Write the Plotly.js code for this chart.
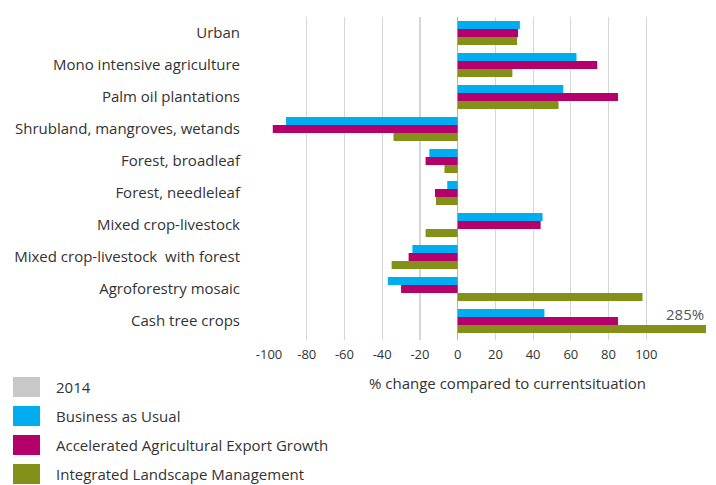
<!DOCTYPE html>
<html>
<head>
<meta charset="utf-8">
<script src="https://cdn.plot.ly/plotly-3.0.1.min.js"></script>
<style>html,body{margin:0;padding:0;background:#fff;}#chart{width:716px;height:485px;}</style>
</head>
<body>
<div id="chart"></div>
<script>
const categories = [
  "Urban",
  "Mono intensive agriculture",
  "Palm oil plantations",
  "Shrubland, mangroves, wetands",
  "Forest, broadleaf",
  "Forest, needleleaf",
  "Mixed crop-livestock",
  "Mixed crop-livestock  with forest",
  "Agroforestry mosaic",
  "Cash tree crops"
];
const base2014 = [0, 0, 0, 0, 0, 0, 0, 0, 0, 0];
const businessAsUsual = [33, 63, 56, -91, -15, -5.5, 45, -24, -37, 46];
const acceleratedExport = [32, 74, 85, -98, -17, -12, 44, -26, -30, 85];
const integratedLandscape = [31.5, 29, 53.5, -34, -7, -11.5, -17, -35, 98, 285];
const tickValues = [-100, -80, -60, -40, -20, 0, 20, 40, 60, 80, 100];
const tickLabels = ["-100", "-80", "-60", "-40", "-20", "0", "20", "40", "60", "80", "100"];
const seriesNames = ["2014", "Business as Usual", "Accelerated Agricultural Export Growth", "Integrated Landscape Management"];
const seriesColors = ["#c8c8c8", "#00aeef", "#b5006b", "#849118"];

const font = "'Open Sans', 'DejaVu Sans', sans-serif";

// plot area geometry (pixels) used to place the hand-drawn legend in paper coordinates
const M = {l: 269, r: 10, t: 17, b: 145};
const W = 716, H = 485;
const PW = W - M.l - M.r, PH = H - M.t - M.b;
const px = v => (v - M.l) / PW;
const py = v => (H - M.b - v) / PH;

const traces = [
  {type: "bar", orientation: "h", name: seriesNames[0], x: base2014, y: categories, yaxis: "y2",
   marker: {color: seriesColors[0]}, showlegend: false, hoverinfo: "skip"},
  {type: "bar", orientation: "h", name: seriesNames[1], x: businessAsUsual, y: categories,
   marker: {color: seriesColors[1]}, showlegend: false},
  {type: "bar", orientation: "h", name: seriesNames[2], x: acceleratedExport, y: categories,
   marker: {color: seriesColors[2]}, showlegend: false},
  {type: "bar", orientation: "h", name: seriesNames[3], x: integratedLandscape, y: categories,
   marker: {color: seriesColors[3]}, showlegend: false}
];

const legendShapes = [];
const legendTexts = [];
seriesNames.forEach((name, i) => {
  const cy = 387 + i * 29;
  legendShapes.push({type: "rect", xref: "paper", yref: "paper",
    x0: px(13), x1: px(40), y0: py(cy - 10), y1: py(cy + 10),
    fillcolor: seriesColors[i], line: {width: 0}, layer: "above"});
  legendTexts.push({xref: "paper", yref: "paper", x: px(54), y: py(cy), xanchor: "left", yanchor: "middle",
    text: name, showarrow: false, font: {size: 15, color: "#333333"}});
});

const layout = {
  width: W, height: H,
  margin: M,
  paper_bgcolor: "#ffffff", plot_bgcolor: "#ffffff",
  font: {family: font, size: 15, color: "#333333"},
  barmode: "group", bargap: 0.25, bargroupgap: 0,
  showlegend: false,
  xaxis: {range: [-100, 131.65], tickvals: tickValues, ticktext: tickLabels,
          showgrid: true, gridcolor: "#d6d6d6", gridwidth: 1.2,
          zeroline: true, zerolinecolor: "#b5b5b5", zerolinewidth: 1.2,
          showline: false, ticks: "", ticklabelstandoff: 5,
          tickfont: {size: 13, color: "#333333"}, fixedrange: true},
  yaxis: {type: "category", categoryorder: "array", categoryarray: categories, autorange: "reversed",
          showgrid: false, zeroline: false, showline: false, ticks: "",
          ticklabelstandoff: 28, tickfont: {size: 15, color: "#333333"}, fixedrange: true},
  yaxis2: {type: "category", categoryorder: "array", categoryarray: categories, autorange: "reversed",
           overlaying: "y", visible: false, fixedrange: true},
  shapes: legendShapes,
  annotations: [
    {xref: "paper", yref: "y", x: 1, y: categories[9], xanchor: "right", yanchor: "middle",
     yshift: 7, text: "285%", showarrow: false, font: {size: 15, color: "#555555"}},
    {xref: "paper", yref: "paper", x: px(507), y: py(383), xanchor: "center", yanchor: "middle",
     text: "% change compared to currentsituation", showarrow: false, font: {size: 15, color: "#333333"}}
  ].concat(legendTexts)
};

Plotly.newPlot("chart", traces, layout, {displayModeBar: false, staticPlot: true});
</script>
</body>
</html>
